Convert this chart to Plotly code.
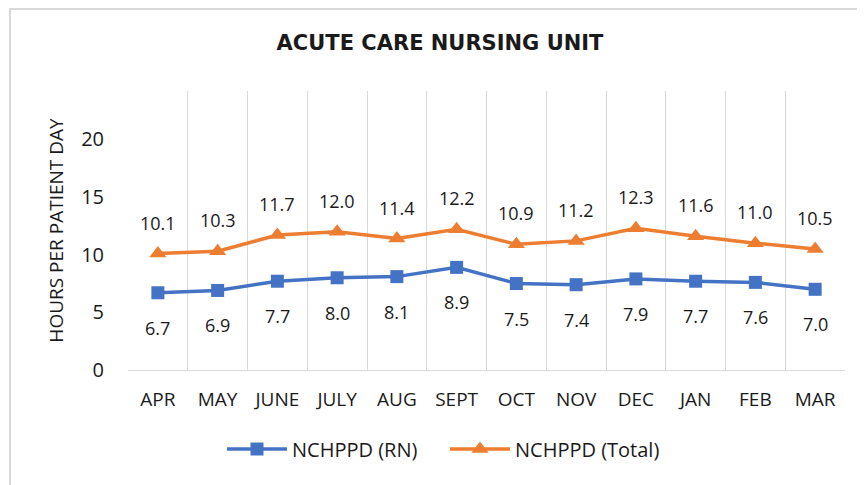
import plotly.graph_objects as go

months = ["APR", "MAY", "JUNE", "JULY", "AUG", "SEPT", "OCT", "NOV", "DEC", "JAN", "FEB", "MAR"]
rn_values = [6.7, 6.9, 7.7, 8.0, 8.1, 8.9, 7.5, 7.4, 7.9, 7.7, 7.6, 7.0]
total_values = [10.1, 10.3, 11.7, 12.0, 11.4, 12.2, 10.9, 11.2, 12.3, 11.6, 11.0, 10.5]
y_ticks = [0, 5, 10, 15, 20]

FONT = "Open Sans"
TXT = "#1a1a1a"
BLUE = "#4472C4"
ORANGE = "#ED7D31"

# plot area in figure pixel coords (page has an 8px body margin)
L, R, T, B = 120, 28, 83, 123
PW, PH = 865 - L - R, 485 - T - B

fig = go.Figure()
fig.add_trace(go.Scatter(
    x=months, y=rn_values, name="NCHPPD (RN)", mode="lines+markers",
    line=dict(color=BLUE, width=3.5),
    marker=dict(symbol="square", size=13, color=BLUE),
))
fig.add_trace(go.Scatter(
    x=months, y=total_values, name="NCHPPD (Total)", mode="lines+markers",
    line=dict(color=ORANGE, width=3.5),
    marker=dict(symbol="triangle-up", size=15, color=ORANGE),
))

annotations = []
for m, v in zip(months, rn_values):
    annotations.append(dict(x=m, y=v, text=f"{v:.1f}", showarrow=False, yshift=-35,
                            font=dict(family=FONT, size=18, color=TXT)))
for m, v in zip(months, total_values):
    annotations.append(dict(x=m, y=v, text=f"{v:.1f}", showarrow=False, yshift=31,
                            font=dict(family=FONT, size=18, color=TXT)))

fig.update_layout(
    width=865, height=485,
    margin=dict(l=L, r=R, t=T, b=B),
    paper_bgcolor="white", plot_bgcolor="white",
    font=dict(family=FONT, color=TXT),
    title=dict(text="<b>ACUTE CARE NURSING UNIT</b>", x=432 / 865, xanchor="center",
               y=1 - 35 / 485, yanchor="middle",
               font=dict(family="DejaVu Sans", size=21, color=TXT)),
    xaxis=dict(type="category", range=[-0.5, 11.5], tickson="boundaries",
               showgrid=True, gridcolor="#d9d9d9", gridwidth=1,
               showline=True, linecolor="#d9d9d9", linewidth=1,
               ticks="", tickfont=dict(family=FONT, size=19, color=TXT),
               ticklabelstandoff=12, zeroline=False, fixedrange=True),
    yaxis=dict(range=[0, 24.2], tickvals=y_ticks, showgrid=False, zeroline=False,
               showline=False, ticks="", tickfont=dict(family=FONT, size=20, color=TXT),
               ticklabelstandoff=23,
               title=dict(text="HOURS PER PATIENT DAY", standoff=12,
                          font=dict(family=FONT, size=19, color=TXT))),
    legend=dict(orientation="h", x=(437 - L) / PW, xanchor="center",
                y=(485 - B - 441) / PH, yanchor="middle",
                font=dict(family=FONT, size=20, color=TXT), itemwidth=60,
                entrywidth=148),
    showlegend=True,
    annotations=annotations,
    shapes=[dict(type="rect", xref="paper", yref="paper",
                 x0=(2 - L) / PW, x1=1.2, y0=-0.6, y1=1 + (T - 1) / PH,
                 line=dict(color="#d9d9d9", width=2), layer="below")],
)

fig.write_html("out.html")
